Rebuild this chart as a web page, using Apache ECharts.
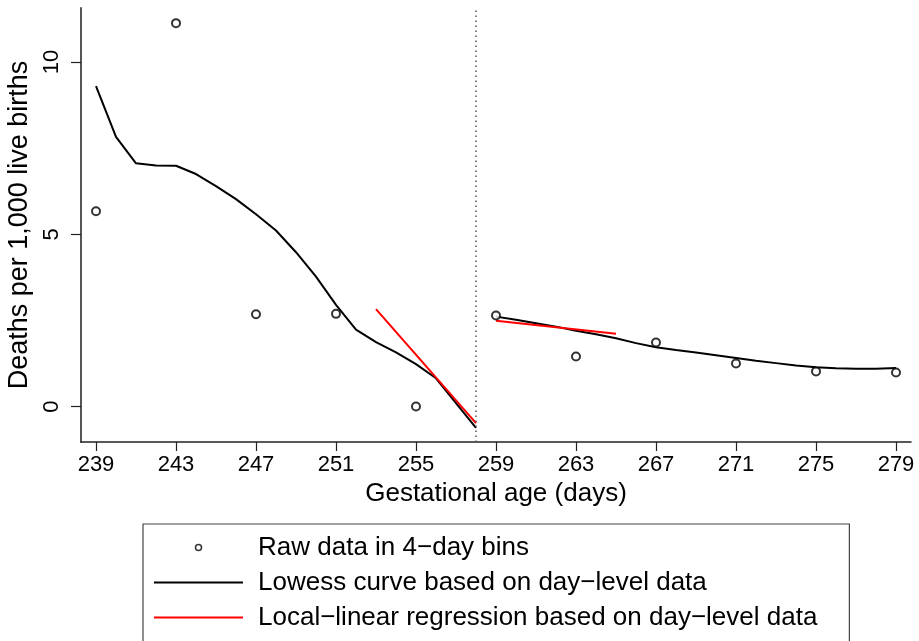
<!DOCTYPE html>
<html>
<head>
<meta charset="utf-8">
<script src="https://cdn.jsdelivr.net/npm/echarts@6/dist/echarts.min.js"></script>
<style>
  html, body { margin: 0; padding: 0; background: #fff; }
  #chart { width: 919px; height: 641px; }
</style>
</head>
<body>
<div id="chart"></div>
<script>
// raw data, 4-day bins
const binDays = [239, 243, 247, 251, 255, 259, 263, 267, 271, 275, 279]
const binRates = [5.67, 11.13, 2.68, 2.69, 0.0, 2.64, 1.45, 1.86, 1.25, 1.02, 0.99]

// lowess, day level (left and right of cutoff)
const leftDays = [239, 240, 241, 242, 243, 244, 245, 246, 247, 248, 249, 250, 251, 252, 253, 254, 255, 256, 257, 258]
const leftLowess = [9.30, 7.83, 7.06, 7.00, 6.99, 6.75, 6.40, 6.02, 5.58, 5.11, 4.48, 3.77, 2.95, 2.23, 1.87, 1.57, 1.23, 0.82, 0.10, -0.62]
const rightDays = [259, 260, 261, 262, 263, 264, 265, 266, 267, 268, 269, 270, 271, 272, 273, 274, 275, 276, 277, 278, 279]
const rightLowess = [2.61, 2.52, 2.42, 2.32, 2.20, 2.10, 1.98, 1.84, 1.72, 1.64, 1.57, 1.49, 1.41, 1.33, 1.26, 1.19, 1.14, 1.11, 1.10, 1.10, 1.12]

// local-linear fits
const llLeftDays = [253, 258]
const llLeft = [2.83, -0.48]
const llRightDays = [259, 265]
const llRight = [2.49, 2.11]

const cutoff = 258
const xTicks = [239, 243, 247, 251, 255, 259, 263, 267, 271, 275, 279]
const yTicks = [0, 5, 10]

const names = [
  'Raw data in 4\u2212day bins',
  'Lowess curve based on day\u2212level data',
  'Local\u2212linear regression based on day\u2212level data'
]

const pairs = (xs, ys) => xs.map((x, i) => [x, ys[i]])
const font = "'Liberation Sans', Arial, Helvetica, sans-serif"

const chart = echarts.init(document.getElementById('chart'))
chart.setOption({
  animation: false,
  backgroundColor: '#fff',
  textStyle: { fontFamily: font },
  grid: { left: 81, right: 8, top: 8, bottom: 199, outerBoundsMode: 'none', containLabel: false },
  legend: {
    left: 143,
    top: 524,
    height: 130,
    orient: 'vertical',
    data: [
      { name: names[0], icon: 'circle', itemStyle: { color: '#fff', borderColor: '#000', borderWidth: 1.5 } },
      { name: names[1], itemStyle: { opacity: 0 } },
      { name: names[2], itemStyle: { opacity: 0 } }
    ],
    itemWidth: 89,
    itemHeight: 6,
    itemGap: 0,
    padding: [6, 32, 12, 10],
    borderColor: '#444',
    borderWidth: 1.2,
    textStyle: { fontSize: 26, lineHeight: 35, color: '#000', fontFamily: font, padding: [0, 0, 0, 10] }
  },
  xAxis: {
    type: 'value',
    min: 238.25,
    max: 279.75,
    name: 'Gestational age (days)',
    nameLocation: 'middle',
    nameGap: 39,
    nameTextStyle: { fontSize: 26, color: '#000' },
    axisLine: { onZero: false, lineStyle: { color: '#222', width: 1.5 } },
    axisTick: { customValues: xTicks, length: 9, lineStyle: { color: '#222', width: 1.2 } },
    axisLabel: { customValues: xTicks, fontSize: 22, color: '#000', margin: 12 },
    splitLine: { show: false }
  },
  yAxis: {
    type: 'value',
    min: -1.03,
    max: 11.57,
    name: 'Deaths per 1,000 live births',
    nameLocation: 'middle',
    nameGap: 44,
    nameRotate: 90,
    nameTextStyle: { fontSize: 27, color: '#000' },
    axisLine: { show: true, onZero: false, lineStyle: { color: '#555', width: 2 } },
    axisTick: { show: true, customValues: yTicks, length: 10, lineStyle: { color: '#222', width: 1.2 } },
    axisLabel: { customValues: yTicks, rotate: 90, fontSize: 22, color: '#000', margin: 18 },
    splitLine: { show: false }
  },
  series: [
    {
      name: names[0],
      type: 'scatter',
      data: pairs(binDays, binRates),
      symbol: 'circle',
      symbolSize: 8,
      itemStyle: { color: '#fff', borderColor: '#000', borderWidth: 2 },
      z: 5
    },
    {
      name: names[1],
      type: 'line',
      data: pairs(leftDays, leftLowess),
      showSymbol: false,
      symbol: 'none',
      lineStyle: { color: '#000', width: 2 },
      itemStyle: { color: '#000' },
      markLine: {
        silent: true,
        symbol: 'none',
        label: { show: false },
        lineStyle: { color: '#555', type: [1.5, 3.5], width: 1.5 },
        data: [{ xAxis: cutoff }]
      }
    },
    {
      name: names[1],
      type: 'line',
      data: pairs(rightDays, rightLowess),
      showSymbol: false,
      symbol: 'none',
      lineStyle: { color: '#000', width: 2 },
      itemStyle: { color: '#000' }
    },
    {
      name: names[2],
      type: 'line',
      data: pairs(llLeftDays, llLeft),
      showSymbol: false,
      symbol: 'none',
      lineStyle: { color: '#ff0000', width: 2 },
      itemStyle: { color: '#ff0000' }
    },
    {
      name: names[2],
      type: 'line',
      data: pairs(llRightDays, llRight),
      showSymbol: false,
      symbol: 'none',
      lineStyle: { color: '#ff0000', width: 2 },
      itemStyle: { color: '#ff0000' }
    }
  ]
})
</script>
</body>
</html>
